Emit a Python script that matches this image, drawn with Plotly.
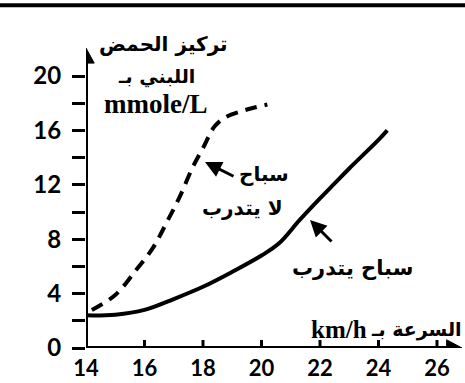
import plotly.graph_objects as go

# ---- data ----
trained_x = [14.0, 15.0, 16.0, 17.0, 18.0, 19.0, 20.0, 20.6, 21.3, 22.0, 22.5, 23.0, 24.0, 24.3]
trained_y = [2.4, 2.45, 2.8, 3.6, 4.5, 5.6, 6.8, 7.7, 9.4, 11.0, 12.1, 13.2, 15.3, 16.0]

untrained_x = [14.2, 15.0, 15.7, 16.3, 16.75, 17.2, 17.65, 18.0, 18.4, 18.8, 19.3, 19.7, 20.2]
untrained_y = [2.8, 3.9, 5.7, 7.4, 9.2, 11.1, 13.3, 14.7, 16.3, 17.0, 17.4, 17.65, 17.9]

x_ticks = [14, 16, 18, 20, 22, 24, 26]
y_ticks = [0, 2, 4, 6, 8, 10, 12, 14, 16, 18, 20]
y_ticktext = ["0", "", "4", "", "8", "", "12", "", "16", "", "20"]

X_MIN, X_MAX = 14.0, 26.855
Y_MIN, Y_MAX = 0.0, 22.06

W, H = 465, 383
ML, MR, MT, MB = 86, 3, 48, 35

fig = go.Figure()
fig.add_trace(go.Scatter(x=untrained_x, y=untrained_y, mode="lines",
                         line=dict(color="black", width=4, dash="12px,8px", shape="spline"),
                         showlegend=False, hoverinfo="skip"))
fig.add_trace(go.Scatter(x=trained_x, y=trained_y, mode="lines",
                         line=dict(color="black", width=4, shape="spline"),
                         showlegend=False, hoverinfo="skip"))

tickfont = dict(family="Lato", size=24, color="black", weight="bold")
xtickfont = dict(family="Lato", size=22, color="black", weight="bold")
fig.update_xaxes(range=[X_MIN, X_MAX], showgrid=False, zeroline=False, showline=False,
                 tickvals=x_ticks, ticks="", ticklabelstandoff=5, tickfont=xtickfont,
                 automargin=False)
fig.update_yaxes(range=[Y_MIN, Y_MAX], showgrid=False, zeroline=False, showline=False,
                 tickvals=y_ticks, ticktext=y_ticktext, ticks="outside", ticklen=13, tickwidth=3,
                 tickcolor="black", ticklabelstandoff=6, tickfont=tickfont, automargin=False)

shapes = []
shapes.append(dict(type="line", xref="x", yref="y", x0=14, x1=14, y0=-0.65, y1=21.2,
                   line=dict(color="black", width=4)))
shapes.append(dict(type="line", xref="x", yref="y", x0=14, x1=26.4, y0=0, y1=0,
                   line=dict(color="black", width=4)))
shapes.append(dict(type="path", xref="x", yref="y",
                   path="M 13.72 20.95 L 14.0 22.06 L 14.28 20.95 Z",
                   fillcolor="black", line=dict(color="black", width=1)))
shapes.append(dict(type="path", xref="x", yref="y",
                   path="M 26.33 0.6 L 26.855 0 L 26.33 -0.6 Z",
                   fillcolor="black", line=dict(color="black", width=1)))
for xv in x_ticks:
    shapes.append(dict(type="line", xref="x", yref="y", ysizemode="pixel", yanchor=0,
                       x0=xv, x1=xv, y0=-8, y1=8, line=dict(color="black", width=3)))

def pxp(px):
    return (px - ML) / (W - ML - MR)

def pyp(py):
    return (H - MB - py) / (H - MT - MB)

shapes.append(dict(type="line", xref="paper", yref="paper", x0=pxp(-5), x1=pxp(470),
                   y0=pyp(5.3), y1=pyp(5.3), line=dict(color="black", width=4)))

def ar(size):
    return dict(family="DejaVu Sans", size=size, color="black", weight="bold")

annotations = [
    dict(text="تركيز الحمض", x=pxp(163), y=pyp(44), font=ar(20)),
    dict(text="اللبني بـ", x=pxp(156), y=pyp(76), font=ar(19)),
    dict(text="mmole/L", x=pxp(155), y=pyp(104),
         font=dict(family="Liberation Serif", size=27, color="black", weight="bold")),
    dict(text="سباح", x=pxp(264), y=pyp(174), font=ar(20)),
    dict(text="لا يتدرب", x=pxp(242), y=pyp(208), font=ar(20)),
    dict(text="سباح يتدرب", x=pxp(352), y=pyp(268), font=ar(21)),
    dict(text="السرعة بـ", x=pxp(464), y=pyp(329), font=ar(19), xanchor="right"),
    dict(text="km/h", x=pxp(369), y=pyp(329),
         font=dict(family="Liberation Serif", size=25, color="black", weight="bold"),
         xanchor="right"),
]
for a in annotations:
    a.update(xref="paper", yref="paper", showarrow=False)
    a.setdefault("xanchor", "center")
    a.setdefault("yanchor", "middle")

annotations.append(dict(text="", xref="paper", yref="paper", x=pxp(205), y=pyp(162),
                        ax=30, ay=15, showarrow=True, arrowhead=2, arrowsize=1.1,
                        arrowwidth=3, arrowcolor="black"))
annotations.append(dict(text="", xref="paper", yref="paper", x=pxp(310), y=pyp(220),
                        ax=23, ay=23, showarrow=True, arrowhead=2, arrowsize=1.1,
                        arrowwidth=3, arrowcolor="black"))

fig.update_layout(width=W, height=H, margin=dict(l=ML, r=MR, t=MT, b=MB),
                  plot_bgcolor="white", paper_bgcolor="white",
                  shapes=shapes, annotations=annotations, showlegend=False)

fig.write_html("out.html", config={"displayModeBar": False},
               post_script="document.body.style.margin='0';document.body.style.overflow='hidden';")
